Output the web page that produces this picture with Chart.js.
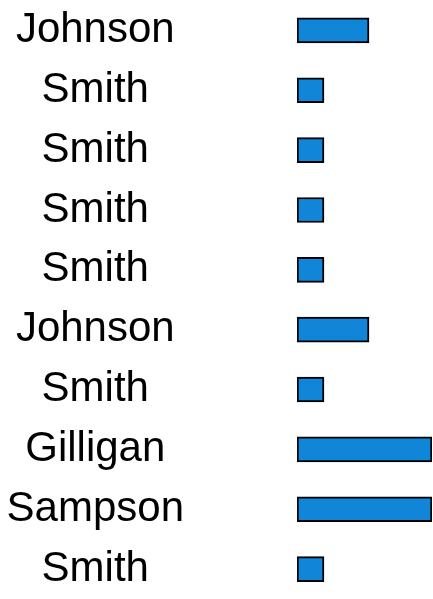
<!DOCTYPE html>
<html><head><meta charset="utf-8">
<script src="https://cdn.jsdelivr.net/npm/chart.js@4/dist/chart.umd.min.js"></script>
<style>html,body{margin:0;padding:0;background:#fff;}canvas{display:block;}</style>
</head><body>
<canvas id="c" width="433" height="599"></canvas>
<script>
const categories = ['Johnson','Smith','Smith','Smith','Smith','Johnson','Smith','Gilligan','Sampson','Smith'];
const values = [8,3,3,3,3,8,3,15,15,3];
const xMax = 15;

new Chart(document.getElementById('c'), {
  type: 'bar',
  data: {
    labels: categories,
    datasets: [{
      data: values,
      backgroundColor: '#1185d8',
      borderColor: '#000000',
      borderWidth: 2,
      borderSkipped: false,
      barThickness: 25
    }]
  },
  options: {
    indexAxis: 'y',
    responsive: false,
    animation: false,
    layout: { padding: { top: 0.5, bottom: -6.6, left: 0, right: 1 } },
    plugins: { legend: { display: false }, tooltip: { enabled: false } },
    scales: {
      x: { display: false, min: 0, max: xMax },
      y: {
        grid: { display: false, drawTicks: false },
        border: { display: false },
        ticks: {
          autoSkip: false,
          crossAlign: 'center',
          padding: 113,
          color: '#000000',
          font: { family: '"Liberation Sans", Arial, sans-serif', size: 42 }
        },
        afterFit(s) { s.width = 297; s.paddingTop = 0; s.paddingBottom = 0; }
      }
    }
  }
});
</script>
</body></html>
